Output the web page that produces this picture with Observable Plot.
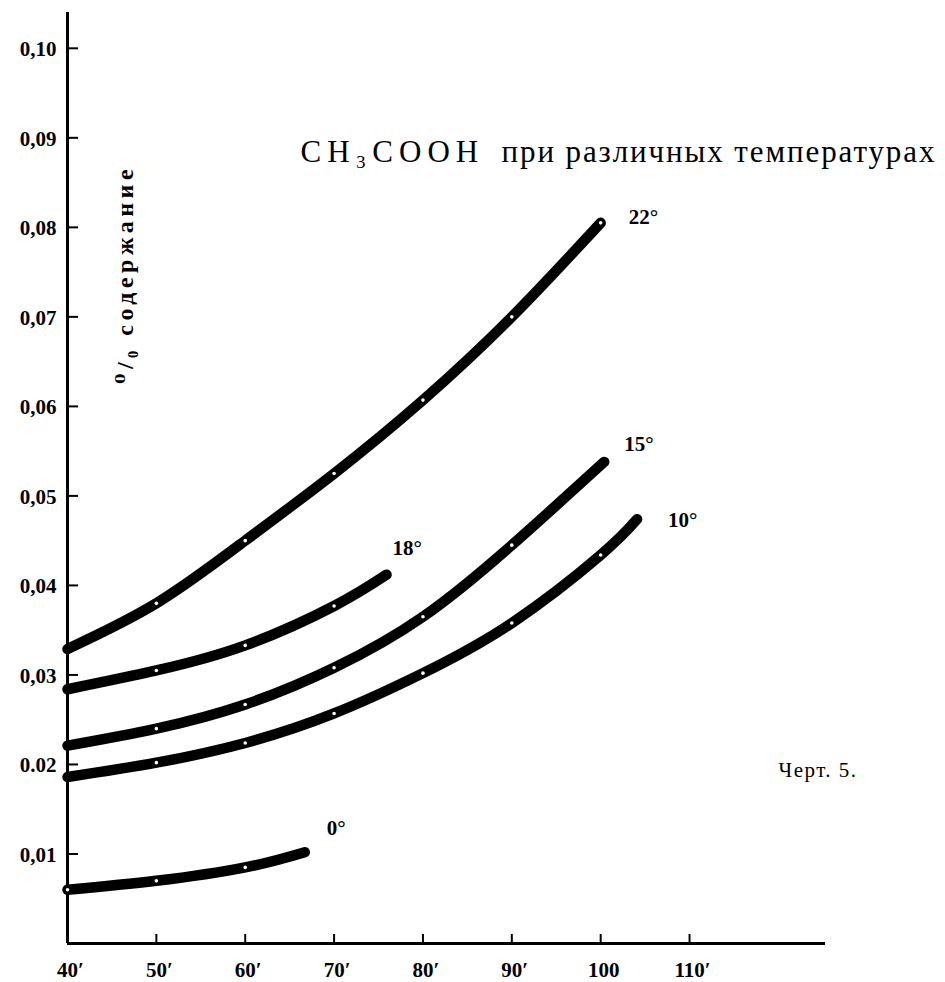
<!DOCTYPE html>
<html>
<head>
<meta charset="utf-8">
<script src="https://cdn.jsdelivr.net/npm/d3@7"></script>
<script src="https://cdn.jsdelivr.net/npm/@observablehq/plot@0.6"></script>
<style>
  html, body { margin: 0; padding: 0; background: #fff; }
  #chart svg { display: block; overflow: visible; }
</style>
</head>
<body>
<div id="chart"></div>
<script>
// ---- data ----
const minutes22 = [40, 50, 60, 70, 80, 90, 100];
const values22  = [0.0329, 0.0380, 0.0450, 0.0525, 0.0607, 0.0700, 0.0805];

const minutes18 = [40, 50, 60, 70, 75.9];
const values18  = [0.0284, 0.0305, 0.0333, 0.0377, 0.0412];

const minutes15 = [40, 50, 60, 70, 80, 90, 100.4];
const values15  = [0.0221, 0.0240, 0.0267, 0.0308, 0.0365, 0.0445, 0.0538];

const minutes10 = [40, 50, 60, 70, 80, 90, 100, 104.1];
const values10  = [0.0186, 0.0202, 0.0224, 0.0257, 0.0302, 0.0358, 0.0434, 0.0474];

const minutes0  = [40, 50, 60, 66.7];
const values0   = [0.0060, 0.0070, 0.0085, 0.0102];

const seriesNames = ["22°", "18°", "15°", "10°", "0°"];

const yTicks = [0.01, 0.02, 0.03, 0.04, 0.05, 0.06, 0.07, 0.08, 0.09, 0.10];
const yTickLabels = ["0,01", "0.02", "0,03", "0,04", "0,05", "0,06", "0,07", "0,08", "0,09", "0,10"];
const xTicks = [40, 50, 60, 70, 80, 90, 100, 110];
const xTickLabels = ["40′", "50′", "60′", "70′", "80′", "90′", "100", "110′"];

const titleFormula = "CH₃COOH";
const titleText = "при различных температурах";
const yLabel = "⁰/₀ содержание";
const figureNote = "Черт. 5.";

// ---- build table ----
const sources = [
  [minutes22, values22], [minutes18, values18], [minutes15, values15],
  [minutes10, values10], [minutes0, values0]
];
const rows = [];
sources.forEach(([xs, ys], s) => xs.forEach((x, i) => rows.push({series: seriesNames[s], x, y: ys[i]})));
const ends = seriesNames.map(n => rows.filter(r => r.series === n).at(-1));
const dots = rows.filter(r => r.x % 10 === 0 && !(r.x === 40 && r.series !== "0°"));

// label offsets (pixels) relative to each curve's end
const labelOffset = {"22°": [28, -6], "18°": [6, -26], "15°": [20, -18], "10°": [31, 1], "0°": [22, -24]};

const W = 945, H = 982;
const mL = 67, mR = 120, mT = 12, mB = 39;
const plotW = W - mL - mR, plotH = H - mT - mB;
const serif = "'Liberation Serif', 'DejaVu Serif', serif";

const chart = Plot.plot({
  width: W, height: H,
  marginLeft: mL, marginRight: mR, marginTop: mT, marginBottom: mB,
  style: {background: "#fff", color: "#000"},
  x: {domain: [40, 125.3], axis: null},
  y: {domain: [0, 0.104], axis: null},
  marks: [
    // axes lines
    Plot.ruleX([40], {stroke: "#000", strokeWidth: 3}),
    Plot.ruleY([0], {stroke: "#000", strokeWidth: 3}),
    // inward ticks
    Plot.tickY(yTicks, {y: d => d, stroke: "#000", strokeWidth: 2, insetRight: plotW - 11}),
    Plot.tickX(xTicks, {x: d => d, stroke: "#000", strokeWidth: 2, insetTop: plotH - 9}),
    // tick labels
    Plot.text(yTicks, {x: 40, y: d => d, text: (d, i) => yTickLabels[i], textAnchor: "end", dx: -11, dy: 1,
      fontSize: 21, fontWeight: "bold", fontFamily: serif, fill: "#000"}),
    Plot.text(xTicks, {x: d => d, y: 0, text: (d, i) => xTickLabels[i], dy: 27, dx: 3,
      fontSize: 21, fontWeight: "bold", fontFamily: serif, fill: "#000"}),
    // curves
    Plot.line(rows, {x: "x", y: "y", z: "series", stroke: "#000", strokeWidth: 10.5,
      strokeLinecap: "round", strokeLinejoin: "round", curve: "natural"}),
    Plot.dot(dots, {x: "x", y: "y", r: 1.8, fill: "#fff", stroke: null}),
    // curve labels
    ...ends.map(e => Plot.text([e], {x: "x", y: "y", text: "series", textAnchor: "start",
      dx: labelOffset[e.series][0], dy: labelOffset[e.series][1],
      fontSize: 21, fontWeight: "bold", fontFamily: serif, fill: "#000"})),
    // title
    Plot.text([titleFormula], {frameAnchor: "top-left", dx: 233, dy: 140, textAnchor: "start", lineAnchor: "middle",
      fontSize: 31, fontFamily: serif, fill: "#000"}),
    Plot.text([titleText], {frameAnchor: "top-left", dx: 434, dy: 140, textAnchor: "start", lineAnchor: "middle",
      fontSize: 31, fontFamily: serif, fill: "#000"}),
    // y label (rotated)
    Plot.text([yLabel], {frameAnchor: "top-left", dx: 58, dy: 262, rotate: -90,
      textAnchor: "middle", lineAnchor: "middle",
      fontSize: 24, fontWeight: "bold", fontFamily: serif, fill: "#000"}),
    // figure note
    Plot.text([figureNote], {frameAnchor: "top-left", dx: 711, dy: 758, textAnchor: "start", lineAnchor: "middle",
      fontSize: 21, fontFamily: serif, fill: "#000"})
  ]
});

document.getElementById("chart").append(chart);
const sel = d3.select(chart).selectAll("text");
sel.filter(function() { return this.textContent === titleFormula; }).style("letter-spacing", "6px");
sel.filter(function() { return this.textContent === titleText; }).style("letter-spacing", "1.9px");
sel.filter(function() { return this.textContent === yLabel; }).style("letter-spacing", "4.5px");
sel.filter(function() { return this.textContent === figureNote; }).style("letter-spacing", "1.5px");
</script>
</body>
</html>
